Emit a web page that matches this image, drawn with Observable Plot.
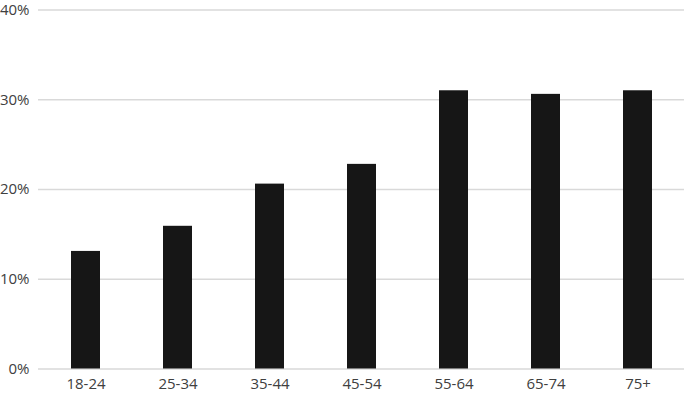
<!DOCTYPE html>
<html><head><meta charset="utf-8">
<script src="https://cdn.jsdelivr.net/npm/d3@7"></script>
<script src="https://cdn.jsdelivr.net/npm/@observablehq/plot@0.6"></script>
<style>body{margin:0;background:#fff}</style>
</head><body><div id="chart"></div>
<script>
const categories = ["18-24","25-34","35-44","45-54","55-64","65-74","75+"];
const values = [13.1, 15.9, 20.6, 22.8, 31.0, 30.6, 31.0];
const yTicks = [0, 10, 20, 30, 40];
const data = categories.map((c, i) => ({age: c, pct: values[i]}));
const chart = Plot.plot({
  width: 685, height: 398,
  marginLeft: 38, marginRight: 1, marginTop: 9.5, marginBottom: 29.5,
  style: {fontFamily: "'Open Sans', sans-serif", fontSize: "15px", color: "#404040", background: "#fff"},
  x: {domain: categories, paddingInner: 0.686, paddingOuter: 0.343, label: null, tickSize: 0, tickPadding: 9},
  y: {domain: [0, 40], ticks: yTicks, tickFormat: d => d + "%", label: null, tickSize: 0, tickPadding: 9},
  marks: [
    Plot.ruleY(yTicks, {stroke: "#d9d9d9", strokeWidth: 1.3}),
    Plot.barY(data, {x: "age", y: "pct", fill: "#161616"})
  ]
});
document.getElementById("chart").append(chart);
</script></body></html>
